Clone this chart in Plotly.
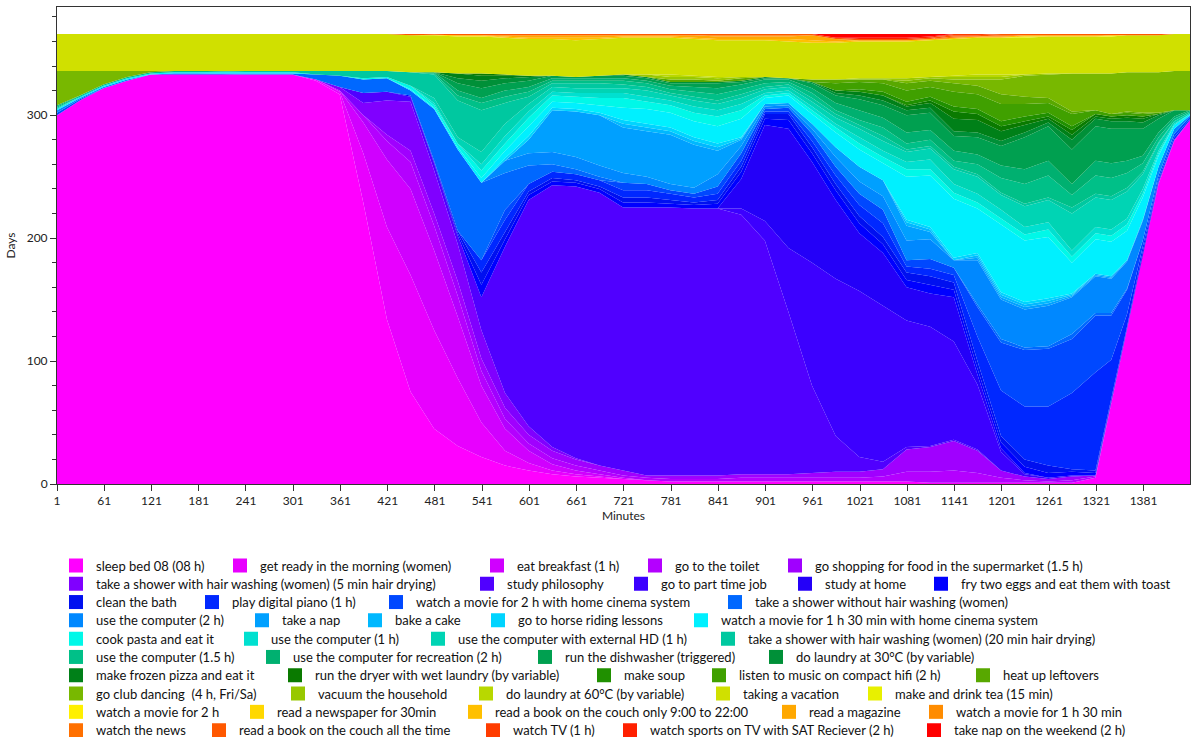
import plotly.graph_objects as go

minutes = [1, 30, 60, 90, 120, 150, 180, 240, 300, 330, 360, 390, 420, 450, 480, 510, 540, 570, 600, 630,
           660, 690, 720, 750, 780, 810, 840, 870, 900, 930, 960, 990, 1020, 1050, 1080, 1110, 1140, 1170, 1200, 1230,
           1260, 1290, 1320, 1340, 1360, 1380, 1400, 1420, 1440]

names = [
    "sleep bed 08 (08 h)", "get ready in the morning (women)", "eat breakfast (1 h)", "go to the toilet",
    "go shopping for food in the supermarket (1.5 h)",
    "take a shower with hair washing (women) (5 min hair drying)", "study philosophy", "go to part time job",
    "study at home", "fry two eggs and eat them with toast",
    "clean the bath", "play digital piano (1 h)", "watch a movie for 2 h with home cinema system",
    "take a shower without hair washing (women)",
    "use the computer (2 h)", "take a nap", "bake a cake", "go to horse riding lessons",
    "watch a movie for 1 h 30 min with home cinema system",
    "cook pasta and eat it", "use the computer (1 h)", "use the computer with external HD (1 h)",
    "take a shower with hair washing (women) (20 min hair drying)",
    "use the computer (1.5 h)", "use the computer for recreation (2 h)", "run the dishwasher (triggered)",
    "do laundry at 30°C (by variable)",
    "make frozen pizza and eat it", "run the dryer with wet laundry (by variable)", "make soup",
    "listen to music on compact hifi (2 h)", "heat up leftovers",
    "go club dancing  (4 h, Fri/Sa)", "vacuum the household", "do laundry at 60°C (by variable)",
    "taking a vacation", "make and drink tea (15 min)",
    "watch a movie for 2 h", "read a newspaper for 30min", "read a book on the couch only 9:00 to 22:00",
    "read a magazine", "watch a movie for 1 h 30 min",
    "watch the news", "read a book on the couch all the time", "watch TV (1 h)",
    "watch sports on TV with SAT Reciever (2 h)", "take nap on the weekend (2 h)",
]

colors = [
    "#FF00FF", "#E800FF", "#D000FF", "#B400FF", "#A000FF", "#8000FF", "#5000FF", "#3C00FF", "#2400F8", "#0000FF",
    "#0010F0", "#0028FF", "#0048FF", "#0068FF", "#0088FF", "#00A0FF", "#00B8FF", "#00D4FF", "#00F0FF",
    "#00F8E8", "#00E0D0", "#00D4B4", "#00C8A0", "#00C088", "#00B070", "#00A050", "#009038", "#008018",
    "#0A7A00", "#209000", "#40A000", "#58A800", "#78B800", "#98C800", "#B8D800", "#D0E000", "#E8F000",
    "#FFF000", "#FFD800", "#FFC000", "#FFA800", "#FF8C00", "#FF7000", "#FF5800", "#FF3C00", "#FF2000", "#FF0000",
]

sleep = [300, 312, 322, 328, 333, 333, 333, 333, 333, 328, 317, 229, 134, 75, 45, 31, 22, 15, 11, 8,
         6, 5, 4, 3, 2, 2, 2, 2, 2, 2, 2, 2, 2, 2, 2, 1, 1, 1, 1, 1,
         1, 1, 5, 66, 125, 186, 244, 279, 296]
get_ready = [0, 0, 0, 0, 0, 0, 0, 0, 0, 1, 2, 40, 75, 95, 80, 55, 28, 12, 6, 3,
             2, 1, 0, 0, 0, 0, 0, 0, 0, 0, 0, 0, 0, 0, 0, 0, 0, 0, 0, 0,
             0, 0, 0, 0, 0, 0, 0, 0, 0]
breakfast = [0, 0, 0, 0, 0, 0, 0, 0, 0, 0, 1, 25, 55, 70, 65, 50, 30, 18, 10, 5,
             3, 2, 1, 0, 0, 0, 0, 0, 0, 0, 0, 0, 0, 0, 0, 0, 0, 0, 0, 0,
             0, 0, 0, 0, 0, 0, 0, 0, 0]
toilet = [0, 0, 0, 0, 0, 0, 0, 0, 0, 0, 0, 6, 15, 22, 20, 17, 12, 8, 6, 5,
          4, 3, 2, 2, 2, 2, 2, 3, 3, 3, 3, 3, 3, 4, 8, 9, 10, 8, 4, 2,
          1, 2, 1, 1, 1, 1, 1, 1, 0]
shopping = [0, 0, 0, 0, 0, 0, 0, 0, 0, 0, 0, 0, 5, 9, 10, 12, 10, 9, 7, 6,
            5, 4, 4, 2, 3, 3, 3, 3, 3, 3, 4, 5, 5, 6, 18, 20, 24, 18, 6, 3,
            2, 3, 1, 0, 0, 0, 0, 0, 0]
shower_short = [0, 0, 0, 0, 0, 0, 0, 0, 0, 0, 3, 10, 28, 40, 35, 30, 23, 12, 7, 3,
                1, 0, 0, 0, 0, 0, 0, 0, 0, 0, 0, 0, 0, 0, 0, 0, 0, 0, 0, 0,
                0, 0, 0, 0, 0, 0, 0, 0, 0]
philosophy = [0, 0, 0, 0, 0, 0, 0, 0, 0, 0, 0, 8, 7, 4, 6, 7, 27, 119, 184, 213,
              221, 222, 214, 218, 218, 217, 217, 211, 190, 132, 71, 29, 12, 6, 2, 1, 1, 1, 0, 0,
              0, 0, 0, 0, 0, 0, 0, 0, 0]
part_time_job = [0, 0, 0, 0, 0, 0, 0, 0, 0, 0, 0, 0, 0, 0, 0, 0, 0, 0, 0, 0,
                 0, 0, 0, 0, 0, 0, 0, 5, 16, 52, 100, 128, 135, 127, 103, 97, 80, 53, 15, 2,
                 1, 1, 0, 0, 0, 0, 0, 0, 0]
study_home = [0, 0, 0, 0, 0, 0, 0, 0, 0, 0, 0, 0, 0, 0, 0, 0, 0, 0, 0, 0,
              0, 0, 0, 0, 0, 0, 0, 24, 78, 97, 82, 64, 47, 43, 27, 27, 36, 8, 3, 1,
              0, 0, 0, 0, 0, 0, 0, 0, 0]
fry_eggs = [0, 0, 0, 0, 0, 0, 0, 0, 0, 0, 0, 0, 0, 1, 1, 2, 10, 6, 4, 3,
            3, 3, 4, 4, 3, 3, 4, 6, 5, 7, 7, 8, 8, 7, 6, 7, 6, 5, 5, 5,
            4, 3, 2, 1, 1, 1, 0, 0, 0]
clean_bath = [0, 0, 0, 0, 0, 0, 0, 0, 0, 0, 0, 0, 0, 0, 1, 2, 10, 6, 3, 3,
              2, 2, 4, 4, 3, 2, 3, 4, 4, 5, 5, 5, 6, 6, 6, 7, 6, 6, 5, 6,
              6, 2, 2, 1, 1, 1, 1, 0, 0]
piano = [0, 0, 0, 0, 0, 1, 1, 0, 0, 0, 0, 0, 0, 0, 0, 0, 10, 10, 6, 5,
         5, 5, 6, 6, 5, 4, 5, 5, 2, 2, 5, 7, 9, 11, 5, 6, 6, 20, 37, 43,
         48, 62, 80, 32, 10, 3, 2, 2, 1]
movie_cinema_2h = [2, 1, 0, 0, 0, 0, 0, 0, 0, 0, 0, 0, 0, 0, 0, 0, 0, 8, 0, 0,
                   0, 0, 6, 5, 3, 3, 6, 6, 2, 3, 6, 7, 9, 11, 5, 8, 6, 24, 39, 46,
                   47, 44, 46, 36, 20, 6, 3, 3, 2]
shower_no_wash = [0, 0, 0, 0, 0, 0, 0, 1, 1, 4, 9, 11, 11, 4, 42, 66, 63, 30, 15, 6,
                  4, 3, 0, 0, 0, 0, 0, 0, 0, 0, 0, 0, 0, 0, 0, 0, 0, 2, 3, 2,
                  2, 4, 2, 2, 1, 0, 0, 0, 0]
computer_2h = [2, 1, 1, 1, 0, 0, 0, 0, 0, 0, 0, 0, 0, 0, 0, 0, 0, 10, 10, 10,
               10, 9, 8, 6, 5, 5, 10, 6, 2, 2, 4, 8, 10, 11, 16, 16, 6, 36, 32, 31,
               33, 30, 30, 28, 22, 16, 7, 4, 1]
nap = [0, 0, 0, 0, 0, 0, 0, 0, 0, 0, 0, 0, 0, 0, 0, 0, 0, 0, 11, 34,
       37, 41, 37, 37, 40, 35, 19, 5, 2, 2, 4, 8, 12, 13, 12, 6, 0, 2, 2, 2,
       2, 1, 1, 1, 1, 1, 0, 0, 0]
cake = [0, 0, 0, 0, 0, 0, 0, 0, 0, 0, 0, 0, 0, 0, 0, 0, 0, 0, 0, 0,
        0, 0, 3, 3, 3, 3, 3, 1, 0, 0, 0, 0, 0, 0, 3, 2, 0, 2, 2, 2,
        2, 1, 1, 1, 0, 0, 0, 0, 0]
horse = [0, 0, 0, 0, 0, 0, 0, 0, 0, 0, 0, 0, 0, 0, 0, 0, 0, 2, 3, 2,
         2, 2, 3, 3, 3, 3, 3, 1, 0, 0, 0, 0, 0, 0, 2, 2, 2, 2, 2, 2,
         2, 1, 0, 0, 0, 0, 0, 0, 0]
movie_cinema_90 = [1, 1, 1, 1, 1, 1, 1, 1, 1, 0, 0, 0, 0, 1, 1, 2, 4, 6, 8, 5,
                   5, 6, 10, 12, 12, 13, 14, 15, 5, 6, 8, 12, 14, 14, 35, 42, 48, 36, 55, 50,
                   50, 25, 28, 28, 24, 18, 9, 3, 1]
pasta = [0, 0, 0, 0, 0, 0, 0, 0, 0, 0, 0, 1, 1, 3, 2, 3, 6, 6, 7, 5,
         5, 6, 8, 6, 6, 7, 8, 7, 2, 2, 3, 4, 5, 5, 6, 5, 5, 5, 5, 5,
         6, 5, 5, 5, 5, 3, 2, 0, 0]
computer_1h = [0, 0, 0, 0, 0, 0, 0, 0, 0, 0, 0, 0, 0, 0, 2, 0, 5, 6, 5, 3,
               3, 4, 4, 4, 4, 5, 5, 5, 2, 2, 3, 3, 5, 5, 6, 8, 7, 7, 7, 6,
               6, 5, 5, 5, 5, 4, 2, 1, 0]
computer_hd = [1, 0, 0, 0, 0, 0, 0, 0, 0, 0, 0, 0, 0, 0, 4, 5, 10, 10, 6, 4,
               4, 4, 4, 5, 4, 5, 5, 5, 3, 3, 4, 5, 7, 8, 8, 9, 12, 14, 12, 17,
               18, 30, 24, 24, 22, 12, 6, 2, 1]
shower_long = [0, 0, 0, 0, 0, 0, 0, 1, 1, 3, 4, 6, 5, 11, 19, 30, 34, 17, 6, 3,
               4, 4, 3, 3, 2, 3, 3, 3, 2, 2, 3, 3, 3, 4, 2, 2, 2, 2, 2, 2,
               2, 5, 3, 3, 3, 2, 1, 0, 0]
computer_15h = [1, 1, 1, 1, 1, 1, 1, 0, 0, 0, 0, 0, 0, 0, 1, 4, 6, 5, 4, 2,
                2, 2, 3, 3, 3, 4, 5, 4, 3, 2, 4, 3, 4, 7, 5, 5, 5, 8, 12, 16,
                18, 10, 15, 15, 12, 7, 4, 2, 1]
recreation = [1, 0, 0, 0, 0, 0, 0, 0, 0, 0, 0, 0, 0, 0, 1, 4, 4, 5, 4, 2,
              2, 2, 2, 2, 3, 4, 5, 4, 3, 2, 4, 6, 8, 8, 9, 8, 8, 8, 10, 12,
              12, 9, 12, 12, 10, 6, 4, 2, 1]
dishwasher = [0, 0, 0, 0, 0, 0, 0, 0, 0, 0, 0, 0, 0, 0, 0, 6, 8, 6, 5, 2,
              1, 2, 2, 2, 2, 3, 4, 2, 1, 1, 4, 6, 9, 10, 14, 14, 12, 14, 16, 26,
              28, 28, 28, 28, 26, 22, 11, 5, 0]
laundry_30 = [0, 0, 0, 0, 0, 0, 0, 0, 0, 0, 0, 0, 0, 0, 0, 4, 6, 4, 3, 0,
              0, 0, 1, 1, 1, 1, 1, 1, 1, 0, 1, 2, 3, 4, 4, 4, 4, 4, 4, 4,
              3, 8, 6, 6, 6, 5, 3, 0, 0]
pizza = [0, 0, 0, 0, 0, 0, 0, 0, 0, 0, 0, 0, 0, 0, 0, 4, 4, 2, 1, 0,
         0, 0, 0, 0, 0, 0, 0, 0, 0, 0, 0, 2, 3, 4, 3, 4, 10, 10, 8, 6,
         3, 4, 2, 2, 3, 3, 1, 0, 0]
dryer = [0, 0, 0, 0, 0, 0, 0, 0, 0, 0, 0, 0, 0, 0, 0, 0, 2, 1, 0, 0,
         0, 0, 0, 0, 0, 0, 0, 0, 0, 0, 0, 0, 0, 0, 1, 2, 6, 5, 4, 3,
         2, 4, 2, 2, 2, 2, 0, 0, 0]
soup = [0, 0, 0, 0, 0, 0, 0, 0, 0, 0, 0, 0, 0, 0, 0, 0, 0, 0, 0, 0,
        0, 0, 0, 0, 0, 0, 0, 0, 0, 0, 0, 0, 2, 3, 3, 3, 4, 4, 4, 4,
        3, 3, 0, 0, 0, 0, 0, 0, 0]
hifi = [0, 0, 0, 0, 0, 0, 0, 0, 0, 0, 0, 0, 0, 0, 0, 0, 0, 0, 0, 0,
        0, 0, 0, 0, 0, 0, 0, 0, 0, 0, 0, 6, 6, 7, 9, 8, 12, 12, 14, 10,
        8, 10, 3, 2, 2, 2, 1, 0, 0]
leftovers = [0, 0, 0, 0, 0, 0, 0, 0, 0, 0, 0, 0, 0, 0, 0, 0, 0, 0, 0, 0,
             0, 0, 0, 0, 2, 2, 1, 2, 0, 0, 2, 3, 2, 3, 6, 5, 7, 7, 8, 6,
             4, 2, 0, 0, 1, 1, 0, 0, 0]
club = [28, 20, 11, 5, 1, 0, 0, 0, 0, 0, 0, 0, 0, 0, 0, 0, 0, 0, 0, 0,
        0, 0, 0, 0, 0, 0, 0, 0, 0, 0, 0, 0, 0, 0, 2, 2, 3, 5, 12, 17,
        19, 31, 30, 33, 32, 33, 33, 32, 32]
vacuum = [0, 0, 0, 0, 0, 0, 0, 0, 0, 0, 0, 0, 0, 0, 0, 0, 0, 0, 0, 0,
          0, 0, 0, 2, 2, 2, 2, 1, 0, 0, 0, 0, 1, 1, 2, 1, 2, 2, 2, 1,
          1, 0, 0, 0, 0, 0, 0, 0, 0]
laundry_60 = [0, 0, 0, 0, 0, 0, 0, 0, 0, 0, 0, 0, 0, 0, 0, 0, 0, 0, 0, 0,
              0, 0, 0, 0, 2, 1, 1, 0, 0, 0, 0, 0, 0, 0, 0, 0, 1, 2, 2, 0,
              0, 0, 0, 0, 0, 0, 0, 0, 0]
vacation = [30] * 49
tea = [0] * 39 + [1] + [0] * 9
movie_2h = [0] * 43 + [1] + [0] * 5
newspaper = [0, 0, 0, 0, 0, 0, 0, 0, 0, 0, 0, 0, 0, 0, 0.5, 1, 1, 0, 0, 0,
             0, 0, 0, 0, 0, 0, 0, 0, 0, 0, 0, 0, 0, 0, 0, 0, 0, 0, 0, 0,
             0, 0, 0, 0, 0, 0, 0, 0, 0]
book_day = [0, 0, 0, 0, 0, 0, 0, 0, 0, 0, 0, 0, 0, 0, 0, 0, 0, 1, 1, 1,
            2, 1, 1, 1, 1, 1, 1, 1, 1, 2, 2, 1, 1, 1, 1, 1, 1, 1, 1, 1,
            1, 1, 1, 0, 0, 0, 0, 0, 0]
magazine = [0, 0, 0, 0, 0, 0, 0, 0, 0, 0, 0, 0, 0, 0, 0, 0, 0, 1, 2, 2,
            2, 2, 1, 1, 1, 2, 2, 2, 2, 2, 4, 2, 0, 0, 0, 0, 0, 0, 0, 0,
            0, 0, 0, 0, 0, 0, 0, 0, 0]
movie_90 = [0, 0, 0, 0, 0, 0, 0, 0, 0, 0, 0, 0, 0, 0, 0, 0, 0, 0, 0, 0,
            0, 0, 0, 0, 0, 0, 1, 1, 1, 1, 0, 0, 0, 0, 0, 0, 0, 0, 0, 0,
            0, 0, 0, 0, 0, 0, 0, 0, 0]
news = [0] * 36 + [1, 0, 1] + [0] * 10
book_all = [0, 0, 0, 0, 0, 0, 0, 0, 0, 0, 0, 0, 0, 1, 0.5, 1, 1, 1, 1, 1,
            1, 1, 1, 1, 1, 1, 1, 1, 1, 1, 1, 1, 1, 1, 1, 1, 1, 1, 1, 1,
            1, 1, 1, 1, 1, 1, 1, 0, 0]
tv = [0] * 36 + [1, 1] + [0] * 11
sports = [0] * 32 + [1, 1, 1, 1] + [0] * 13
nap_weekend = [0] * 31 + [3, 3, 3, 3, 2] + [0] * 13

series = [sleep, get_ready, breakfast, toilet, shopping, shower_short, philosophy, part_time_job, study_home,
          fry_eggs, clean_bath, piano, movie_cinema_2h, shower_no_wash, computer_2h, nap, cake, horse,
          movie_cinema_90, pasta, computer_1h, computer_hd, shower_long, computer_15h, recreation, dishwasher,
          laundry_30, pizza, dryer, soup, hifi, leftovers, club, vacuum, laundry_60, vacation, tea, movie_2h,
          newspaper, book_day, magazine, movie_90, news, book_all, tv, sports, nap_weekend]

x_ticks = list(range(1, 1441, 60))
y_ticks = [0, 100, 200, 300]

# legend layout: which row each entry sits in, and the pixel column of its swatch
legend_rows = [0] * 5 + [1] * 5 + [2] * 4 + [3] * 5 + [4] * 4 + [5] * 4 + [6] * 5 + [7] * 5 + [8] * 5 + [9] * 5
legend_cols = [72, 236, 493, 651, 791,
               72, 483, 637, 801, 937,
               72, 208, 392, 731,
               72, 258, 371, 494, 697,
               72, 247, 434, 724,
               72, 269, 541, 772,
               72, 291, 600, 715, 979,
               72, 294, 482, 719, 871,
               72, 253, 471, 785, 932,
               72, 215, 489, 626, 930]

W, H = 1192, 737
ML, MR, MT, MB = 57, 2, 7, 253
PW, PH = W - ML - MR, H - MT - MB
row_y0, row_dy = 565.5, 18.3

fig = go.Figure()
for name, col, vals in zip(names, colors, series):
    fig.add_trace(go.Scatter(
        x=minutes, y=vals, name=name, mode="lines", stackgroup="one",
        line=dict(width=0, color=col), fillcolor=col, showlegend=False, hoverinfo="x+y+name",
    ))

legend_layouts = {}
for i, (name, col) in enumerate(zip(names, colors)):
    lid = "legend" if i == 0 else f"legend{i + 1}"
    fig.add_trace(go.Scatter(
        x=[None], y=[None], name=name, mode="markers", legend=lid,
        marker=dict(symbol="square", size=14, color=col, line=dict(width=0)), showlegend=True,
    ))
    px_left = legend_cols[i] - 3 - 13
    py = row_y0 + row_dy * legend_rows[i]
    legend_layouts[lid] = dict(
        orientation="h", x=(px_left - ML) / PW, xanchor="left",
        y=(H - MB - py) / PH, yanchor="middle",
        font=dict(size=13, color="#111"), itemwidth=30, bgcolor="rgba(0,0,0,0)",
    )

axis_font = dict(family="Lato, 'Noto Sans', sans-serif", size=12, color="#222")
fig.update_layout(
    width=W, height=H,
    margin=dict(l=ML, r=MR, t=MT, b=MB, autoexpand=False),
    plot_bgcolor="white", paper_bgcolor="white",
    font=dict(family="Lato, 'Noto Sans', sans-serif", size=13, color="#111"),
    showlegend=True,
    xaxis=dict(range=[1, 1440], tickvals=x_ticks, ticks="outside", ticklen=6, tickcolor="#333",
               showline=True, linecolor="#333", linewidth=1, mirror=True, showgrid=False, zeroline=False,
               tickfont=axis_font, title=dict(text="Minutes", font=axis_font, standoff=4)),
    yaxis=dict(range=[0, 388], tickvals=y_ticks, ticks="outside", ticklen=6, tickcolor="#333",
               minor=dict(dtick=20, tick0=0, ticks="outside", ticklen=4, tickcolor="#333"),
               showline=True, linecolor="#333", linewidth=1, mirror=True, showgrid=False, zeroline=False,
               tickfont=axis_font, title=dict(text="Days", font=axis_font, standoff=8)),
    **legend_layouts,
)

fig.write_html("out.html", config={"displayModeBar": False},
               post_script="document.body.style.margin='0px';")
